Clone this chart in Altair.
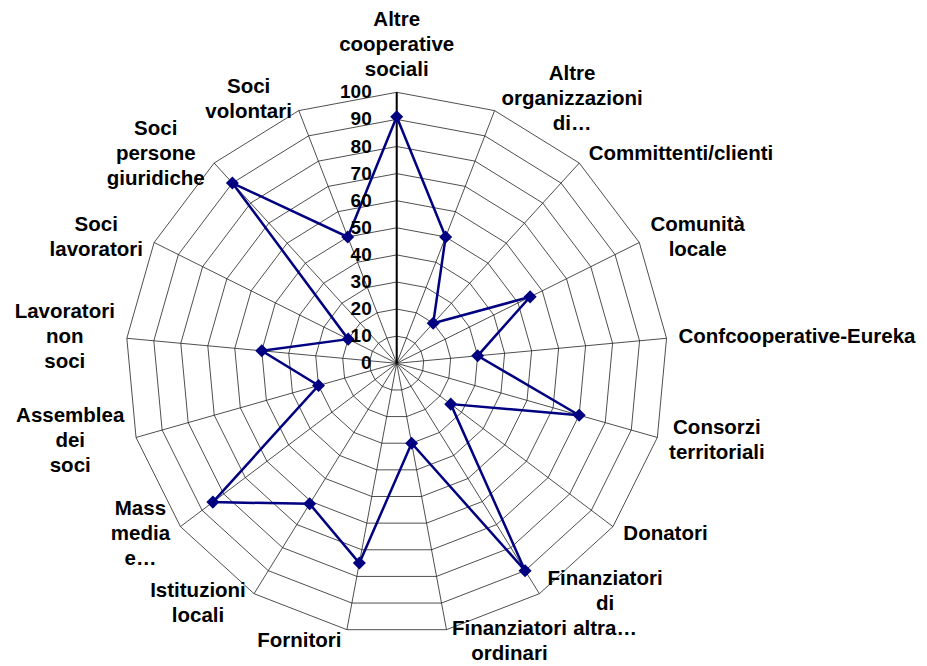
import math
import altair as alt
import pandas as pd

# ---- data ----
categories = [
    "Altre cooperative sociali", "Altre organizzazioni di…", "Committenti/clienti",
    "Comunità locale", "Confcooperative-Eureka", "Consorzi territoriali", "Donatori",
    "Finanziatori di altra…", "Finanziatori ordinari", "Fornitori", "Istituzioni locali",
    "Mass media e…", "Assemblea dei soci", "Lavoratori non soci", "Soci lavoratori",
    "Soci persone giuridiche", "Soci volontari",
]
label_lines = [
    ["Altre", "cooperative", "sociali"], ["Altre", "organizzazioni", "di…"],
    ["Committenti/clienti"], ["Comunità", "locale"], ["Confcooperative-Eureka"],
    ["Consorzi", "territoriali"], ["Donatori"], ["Finanziatori", "di", "altra…"],
    ["Finanziatori", "ordinari"], ["Fornitori"], ["Istituzioni", "locali"],
    ["Mass", "media", "e…"], ["Assemblea", "dei", "soci"], ["Lavoratori", "non", "soci"],
    ["Soci", "lavoratori"], ["Soci", "persone", "giuridiche"], ["Soci", "volontari"],
]
values = [91, 50, 20, 55, 30, 70, 25, 90, 30, 75, 61, 85, 30, 50, 20, 90, 50]
ticks = [0, 10, 20, 30, 40, 50, 60, 70, 80, 90, 100]

# ---- layout ----
N = len(categories)
W, H = 911, 658
K = 2.71            # pixels per value unit
CX, CY = 388.7, 355.3
xdom = [-CX / K, (W - CX) / K]
ydom = [-(H - CY) / K, CY / K]
RMAX = ticks[-1]
FONT = "Liberation Sans"
LFS = 20.5    # category label font size
TFS = 19      # tick label font size
LH = 25       # line height

def pos(i, r):
    a = 2 * math.pi * i / N
    return r * math.sin(a), r * math.cos(a)

# Arial-bold-like widths (per 1000 em) for estimating label widths
CW = {"a": 556, "b": 611, "c": 556, "d": 611, "e": 556, "f": 333, "g": 611, "h": 611,
      "i": 278, "j": 278, "k": 556, "l": 278, "m": 889, "n": 611, "o": 611, "p": 611,
      "q": 611, "r": 389, "s": 556, "t": 333, "u": 611, "v": 556, "w": 778, "x": 556,
      "y": 556, "z": 500, "A": 722, "C": 722, "E": 667, "F": 611, "I": 278, "L": 611,
      "M": 833, "S": 667, "D": 722, "/": 278, "-": 333, "…": 1000, "à": 556, " ": 278}

def text_w(s):
    return sum(CW.get(ch, 600) for ch in s) / 1000 * LFS

# grid rings
grid_rows = []
for t in ticks[1:]:
    for j in range(N + 1):
        x, y = pos(j % N, t)
        grid_rows.append({"ring": t, "idx": j, "x": x, "y": y})
grid_df = pd.DataFrame(grid_rows)

# spokes
spoke_rows = []
for i in range(N):
    x, y = pos(i, RMAX)
    spoke_rows.append({"x": 0.0, "y": 0.0, "x2": x, "y2": y})
spoke_df = pd.DataFrame(spoke_rows)

# series
ser_rows = []
for j in range(N + 1):
    i = j % N
    x, y = pos(i, values[i])
    ser_rows.append({"idx": j, "x": x, "y": y, "cat": categories[i], "v": values[i]})
ser_df = pd.DataFrame(ser_rows)
pt_df = ser_df.iloc[:N]

# tick labels
tick_df = pd.DataFrame({"x": [0.0] * len(ticks), "y": ticks, "t": [str(t) for t in ticks]})

# category labels (Vega puts the first line at y, later lines below)
lab_rows = []
for i in range(N):
    a = 2 * math.pi * i / N
    s, c = math.sin(a), math.cos(a)
    vx, vy = pos(i, RMAX)
    lines = label_lines[i]
    n = len(lines)
    wmax = max(text_w(l) for l in lines)
    if abs(s) < 0.05:
        offx = 0.0
        center_down = -(12 + (n - 1) * LH / 2 + LFS / 2)
    else:
        offx = math.copysign(4 + 8 * abs(s) + wmax / 2, s)
        center_down = -12 * c
    first_down = center_down - (n - 1) * LH / 2
    lab_rows.append({"x": vx + offx / K, "y": vy - first_down / K, "t": "\n".join(lines)})
lab_df = pd.DataFrame(lab_rows)

xs = alt.Scale(domain=xdom, nice=False, zero=False)
ys = alt.Scale(domain=ydom, nice=False, zero=False)

def X(f="x"):
    return alt.X(f"{f}:Q", scale=xs, axis=None)

def Y(f="y"):
    return alt.Y(f"{f}:Q", scale=ys, axis=None)

rings = alt.Chart(grid_df).mark_line(color="#222", strokeWidth=0.8).encode(
    x=X(), y=Y(), detail="ring:N", order="idx:Q")

spokes = alt.Chart(spoke_df).mark_rule(color="#222", strokeWidth=0.8).encode(
    x=X(), y=Y(), x2="x2:Q", y2="y2:Q")

axis_spoke = alt.Chart(spoke_df.iloc[:1]).mark_rule(color="black", strokeWidth=2).encode(
    x=X(), y=Y(), x2="x2:Q", y2="y2:Q")

line = alt.Chart(ser_df).mark_line(color="#000080", strokeWidth=2.5).encode(
    x=X(), y=Y(), order="idx:Q")

points = alt.Chart(pt_df).mark_point(shape="diamond", filled=True, size=170,
                                     color="#000080", opacity=1).encode(x=X(), y=Y())

tick_text = alt.Chart(tick_df).mark_text(align="right", baseline="middle", dx=-25,
                                         font=FONT, fontSize=TFS, fontWeight="bold",
                                         color="black").encode(x=X(), y=Y(), text="t:N")

cat_text = alt.Chart(lab_df).mark_text(align="center", baseline="middle", lineBreak="\n",
                                       lineHeight=LH, font=FONT, fontSize=LFS,
                                       fontWeight="bold", color="black").encode(
    x=X(), y=Y(), text="t:N")

chart = alt.layer(rings, spokes, axis_spoke, line, points, tick_text, cat_text).properties(
    width=W, height=H, padding=0, autosize=alt.AutoSizeParams(type="none"),
    background="white",
).configure_view(stroke=None)

chart.save("out.html", embed_options={"renderer": "svg", "actions": False})
